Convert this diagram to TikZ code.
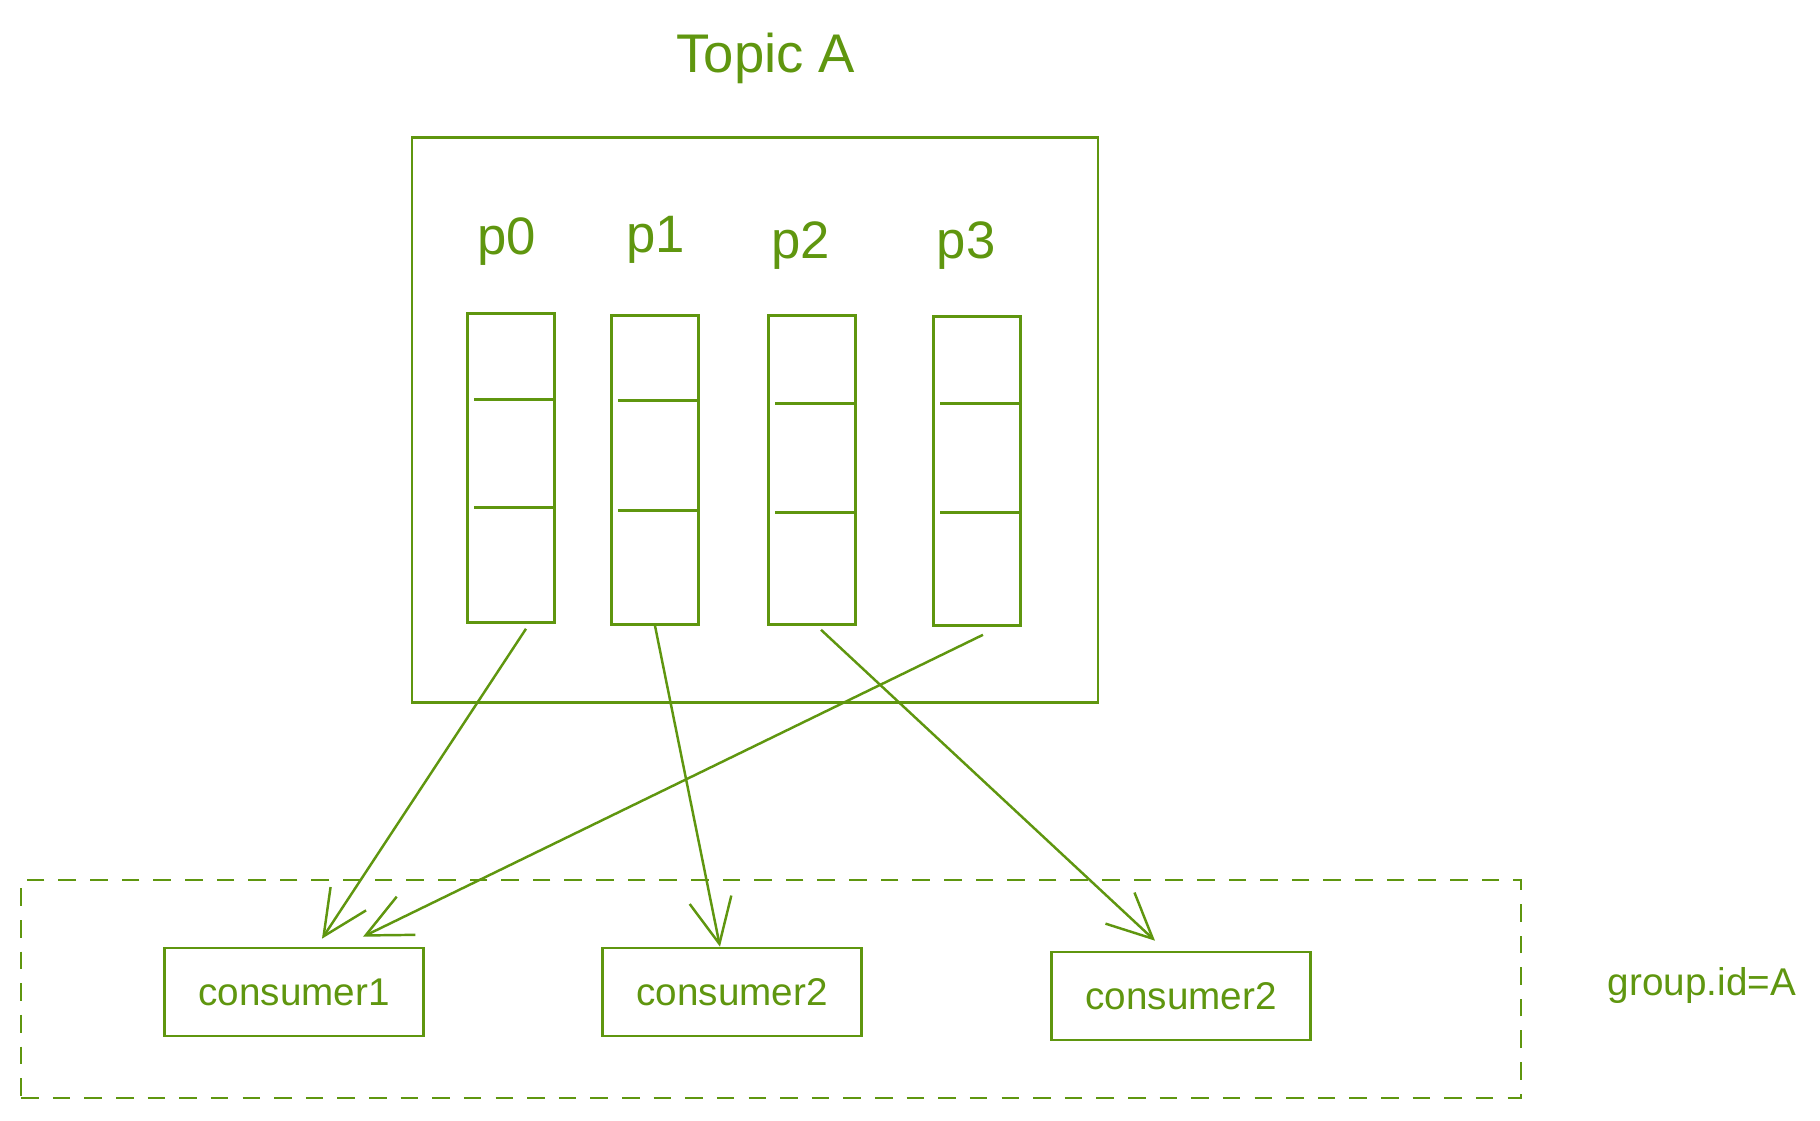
\documentclass[tikz,border=0pt]{standalone}
\usepackage{fontspec}
\setmainfont{Liberation Sans}
\usepackage{xcolor}
\usetikzlibrary{arrows.meta,positioning,calc}
\definecolor{leaf}{RGB}{95,150,15}

\begin{document}
\begin{tikzpicture}[x=0.02cm, y=-0.02cm]
  \tikzstyle{topicbox}=[rectangle, draw=leaf, line width=1.5pt, minimum width=13.72cm, minimum height=11.3cm]
  \tikzstyle{partition}=[rectangle, draw=leaf, line width=1.5pt, minimum width=1.74cm, minimum height=6.18cm]
  \tikzstyle{consumer}=[rectangle, draw=leaf, line width=1.5pt, text=leaf, minimum width=5.18cm, minimum height=1.76cm, font=\fontsize{22}{26}\selectfont]
  \tikzstyle{groupbox}=[rectangle, draw=leaf, line width=1.5pt, dash pattern=on 10pt off 8pt, minimum width=30cm, minimum height=4.36cm]
  \tikzstyle{plabel}=[anchor=base, text=leaf, font=\fontsize{30}{36}\selectfont]
  \tikzstyle{assign}=[draw=leaf, line width=1.4pt, -{Straight Barb[length=0.9cm, width=0.85cm]}]

  \useasboundingbox (0,0) rectangle (1820,1120);

  % Topic
  \node[anchor=base, text=leaf, font=\fontsize{31}{36}\selectfont] (title) at (766,72) {Topic A};
  \node[topicbox] (topic) at (755,420) {};

  % Partitions
  \node[plabel] (l0) at (507,254) {p0};
  \node[plabel] (l1) at (656,252) {p1};
  \node[plabel] (l2) at (801,258) {p2};
  \node[plabel] (l3) at (966,258) {p3};
  \node[partition] (part0) at (511,468) {};
  \node[partition] (part1) at (655,470) {};
  \node[partition] (part2) at (812,470) {};
  \node[partition] (part3) at (977,471) {};
  \draw[leaf, line width=1.5pt] ($(part0.north west)+(8,87)$) -- ($(part0.north east)+(0,87)$);
  \draw[leaf, line width=1.5pt] ($(part0.north west)+(8,195)$) -- ($(part0.north east)+(0,195)$);
  \draw[leaf, line width=1.5pt] ($(part1.north west)+(8,86)$) -- ($(part1.north east)+(0,86)$);
  \draw[leaf, line width=1.5pt] ($(part1.north west)+(8,196)$) -- ($(part1.north east)+(0,196)$);
  \draw[leaf, line width=1.5pt] ($(part2.north west)+(8,89)$) -- ($(part2.north east)+(0,89)$);
  \draw[leaf, line width=1.5pt] ($(part2.north west)+(8,198)$) -- ($(part2.north east)+(0,198)$);
  \draw[leaf, line width=1.5pt] ($(part3.north west)+(8,88)$) -- ($(part3.north east)+(0,88)$);
  \draw[leaf, line width=1.5pt] ($(part3.north west)+(8,197)$) -- ($(part3.north east)+(0,197)$);

  % Consumer group
  \node[groupbox] (group) at (771,989) {};
  \node[consumer] (c1) at (294,992) {consumer1};
  \node[consumer] (c2) at (732,992) {consumer2};
  \node[consumer] (c3) at (1181,996) {consumer2};
  \node[anchor=base, text=leaf, font=\fontsize{22}{26}\selectfont] (gid) at (1702,995) {group.id=A};

  % Assignments
  \draw[assign] ([xshift=0.3cm, yshift=-0.1cm]part0.south) -- ([xshift=0.56cm, yshift=0.16cm]c1.north);
  \draw[assign] ([xshift=0.12cm, yshift=-0.16cm]part3.south) -- ([xshift=1.38cm, yshift=0.2cm]c1.north);
  \draw[assign] (part1.south) -- ([xshift=-0.24cm]c2.north);
  \draw[assign] ([xshift=0.18cm, yshift=-0.08cm]part2.south) -- ([xshift=-0.52cm, yshift=0.2cm]c3.north);
\end{tikzpicture}
\end{document}
